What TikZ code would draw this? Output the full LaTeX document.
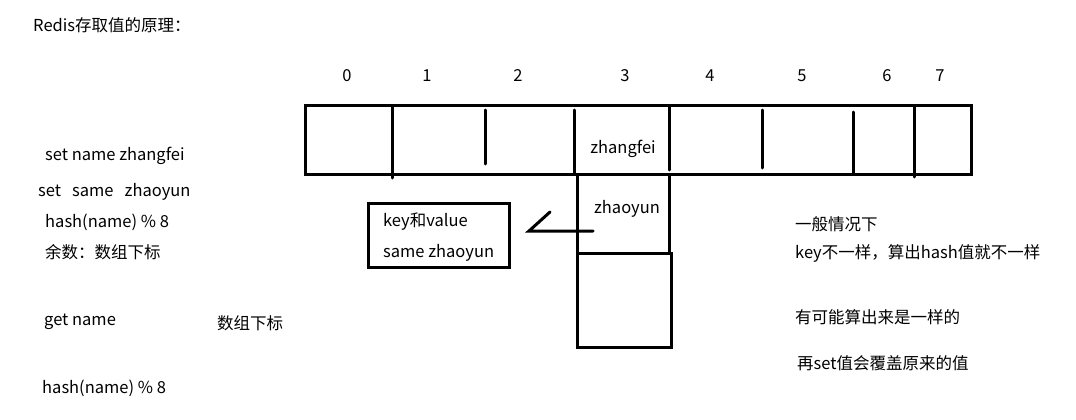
\documentclass[tikz,border=0pt]{standalone}
\usepackage{fontspec}
\setmainfont{Noto Sans CJK SC}
\begin{document}
\begin{tikzpicture}[x=1pt,y=-1pt,
  txt/.style={anchor=west,inner sep=0pt,font=\fontsize{16.5}{19}\selectfont},
  idx/.style={anchor=center,inner sep=0pt,font=\fontsize{16.5}{19}\selectfont},
  thick line/.style={line width=3pt,line cap=round},
  box/.style={draw,line width=3pt}]
\useasboundingbox (0,0) rectangle (1076,420);
% title
\node[txt] (title) at (33,25) {Redis存取值的原理：};
% left texts
\node[txt] (t1) at (45,156) {set name zhangfei};
\node[txt] (t2) at (38,192) {set\ \ \ same\ \ \ zhaoyun};
\node[txt] (t3) at (45,222) {hash(name) \% 8};
\node[txt] (t4) at (45,252) {余数：数组下标};
\node[txt] (t5) at (44,322) {get name};
\node[txt] (t6) at (217,323) {数组下标};
\node[txt] (t7) at (42,388) {hash(name) \% 8};
% right texts
\node[txt] (r1) at (795,224) {一般情况下};
\node[txt] (r2) at (795,253) {key不一样，算出hash值就不一样};
\node[txt] (r3) at (795,317) {有可能算出来是一样的};
\node[txt] (r4) at (797,363) {再set值会覆盖原来的值};
% indices
\node[idx] (i0) at (347,76) {0};
\node[idx] (i1) at (427,76) {1};
\node[idx] (i2) at (518,76) {2};
\node[idx] (i3) at (625,76) {3};
\node[idx] (i4) at (710,76) {4};
\node[idx] (i5) at (802,76) {5};
\node[idx] (i6) at (887,76) {6};
\node[idx] (i7) at (940,76) {7};
% array
\draw[box] (305,105) rectangle (971,174);
\draw[thick line] (392,106) -- (392,178);
\draw[thick line] (485,110) -- (485,164);
\draw[thick line] (574,110) -- (574,174);
\draw[thick line] (669,107) -- (669,170);
\draw[thick line] (762,110) -- (762,168);
\draw[thick line] (853,112) -- (853,174);
\draw[thick line] (914,107) -- (914,177);
\node[idx] (zf) at (623,149) {zhangfei};
% bucket chain
\draw[box] (577,174) rectangle (669,253);
\draw[box] (577,253) rectangle (671,347);
\node[idx] (zy) at (627,209) {zhaoyun};
% key/value box
\draw[box] (368,203) rectangle (509,267);
\node[txt] (kv1) at (383,222) {key和value};
\node[txt] (kv2) at (383,253) {same zhaoyun};
% hand drawn pointer
\coordinate (pa) at (593,231);
\coordinate (pb) at (529,231);
\coordinate (pc) at (550,212);
\draw[thick line] (pa) -- (pb) -- (pc);
\end{tikzpicture}
\end{document}
